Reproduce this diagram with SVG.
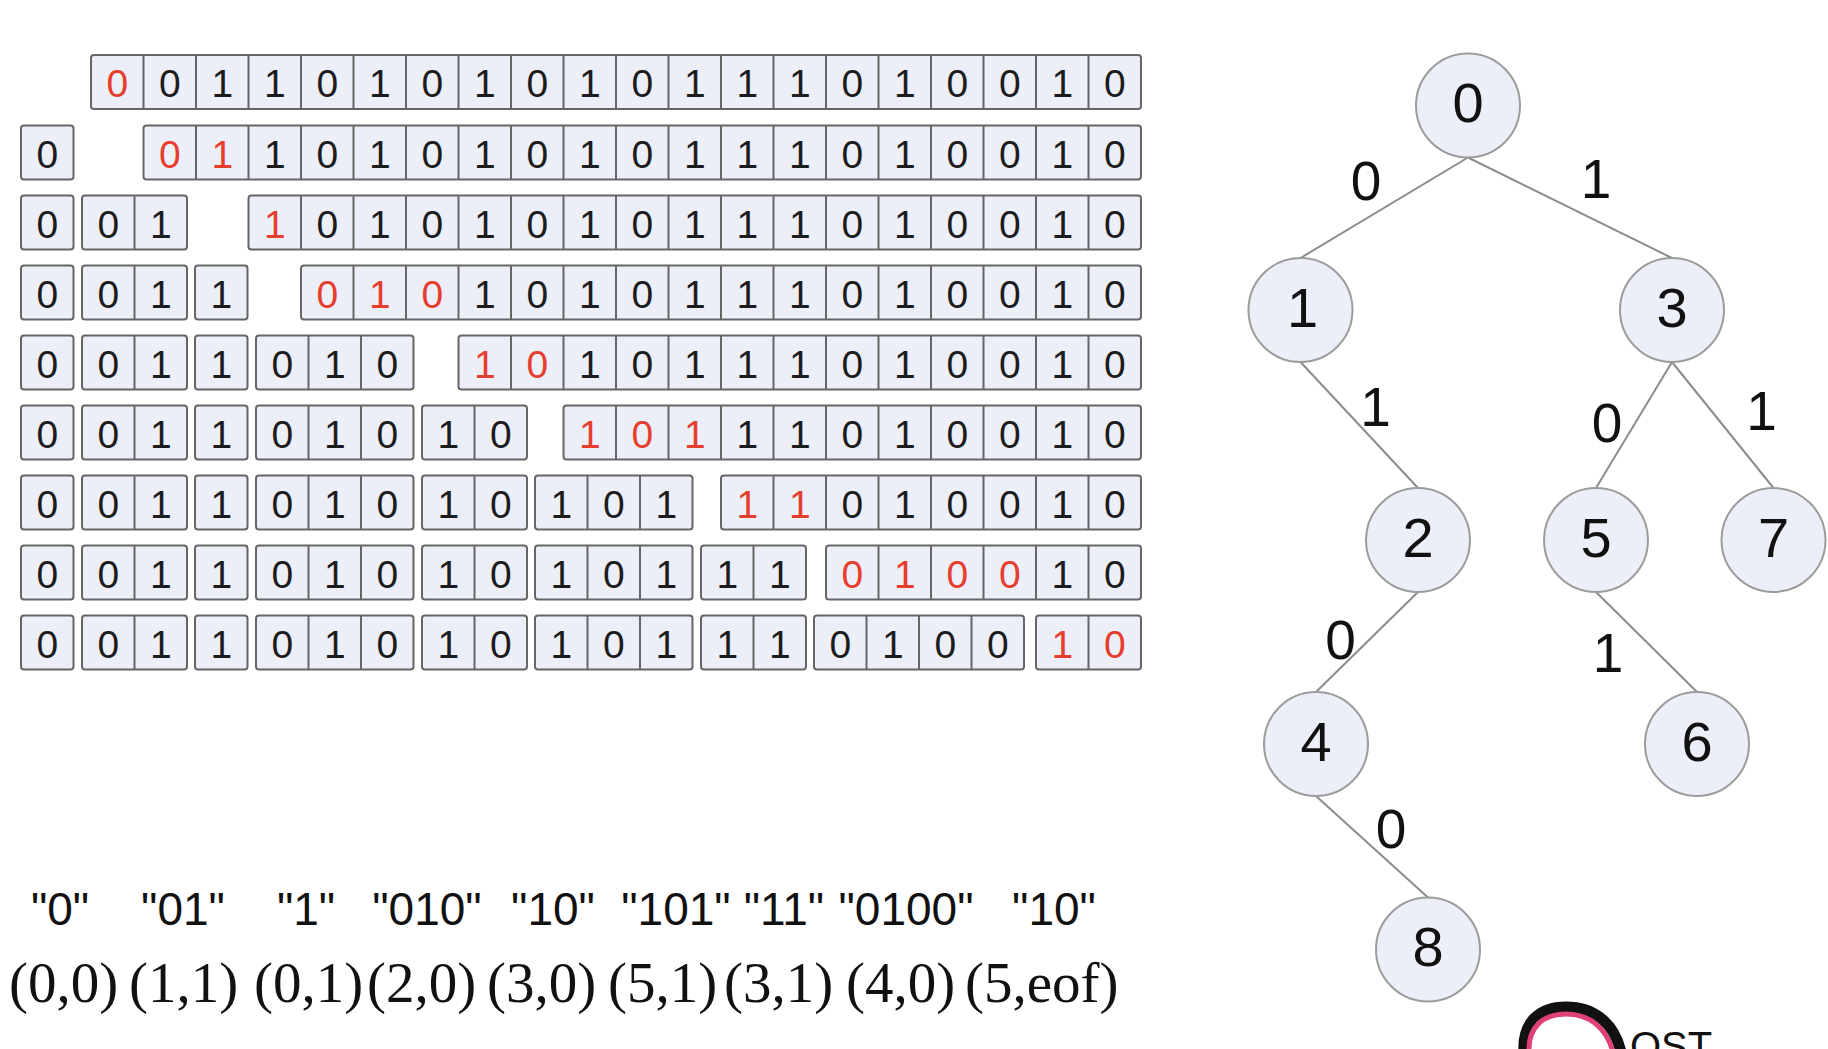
<svg xmlns="http://www.w3.org/2000/svg" width="1828" height="1049" viewBox="0 0 1828 1049">
<style>
.box{fill:#eceef8;stroke:#666;stroke-width:2}
.dv{fill:none;stroke:#666;stroke-width:2}
.row text{font-family:"Liberation Sans",Arial,sans-serif;font-size:39px;fill:#1c1c1c;text-anchor:middle}
.row text.r{fill:#e63d2c}
.edge{stroke:#8c8c8c;stroke-width:2;fill:none}
.node circle{fill:#eceef8;stroke:#9c9c9c;stroke-width:2}
.node text{font-family:"Liberation Sans",Arial,sans-serif;font-size:56px;fill:#111;text-anchor:middle}
.el{font-family:"Liberation Sans",Arial,sans-serif;font-size:55px;fill:#111;text-anchor:middle}
.q{font-family:"Liberation Sans",Arial,sans-serif;font-size:46px;fill:#111;text-anchor:middle}
.tu{font-family:"Liberation Serif","Times New Roman",serif;font-size:57px;fill:#111}
</style>
<rect width="1828" height="1049" fill="#fff"/>

<g id="row-1" class="row" transform="translate(0,55)">
<rect class="box" x="91" y="0" width="1050" height="54" rx="3"/>
<path class="dv" d="M143.5 0V54M196 0V54M248.5 0V54M301 0V54M353.5 0V54M406 0V54M458.5 0V54M511 0V54M563.5 0V54M616 0V54M668.5 0V54M721 0V54M773.5 0V54M826 0V54M878.5 0V54M931 0V54M983.5 0V54M1036 0V54M1088.5 0V54"/>
<text class="r" x="117.25" y="42">0</text>
<text x="169.75" y="42">0</text><text x="222.25" y="42">1</text><text x="274.75" y="42">1</text><text x="327.25" y="42">0</text><text x="379.75" y="42">1</text><text x="432.25" y="42">0</text><text x="484.75" y="42">1</text><text x="537.25" y="42">0</text><text x="589.75" y="42">1</text><text x="642.25" y="42">0</text><text x="694.75" y="42">1</text><text x="747.25" y="42">1</text><text x="799.75" y="42">1</text><text x="852.25" y="42">0</text><text x="904.75" y="42">1</text><text x="957.25" y="42">0</text><text x="1009.75" y="42">0</text><text x="1062.25" y="42">1</text><text x="1114.75" y="42">0</text>
</g>

<g id="row-2" class="row" transform="translate(0,125.5)">
<rect class="box" x="21" y="0" width="52.5" height="54" rx="3"/>
<text x="47.25" y="42">0</text>
<rect class="box" x="143.5" y="0" width="997.5" height="54" rx="3"/>
<path class="dv" d="M196 0V54M248.5 0V54M301 0V54M353.5 0V54M406 0V54M458.5 0V54M511 0V54M563.5 0V54M616 0V54M668.5 0V54M721 0V54M773.5 0V54M826 0V54M878.5 0V54M931 0V54M983.5 0V54M1036 0V54M1088.5 0V54"/>
<text class="r" x="169.75" y="42">0</text><text class="r" x="222.25" y="42">1</text>
<text x="274.75" y="42">1</text><text x="327.25" y="42">0</text><text x="379.75" y="42">1</text><text x="432.25" y="42">0</text><text x="484.75" y="42">1</text><text x="537.25" y="42">0</text><text x="589.75" y="42">1</text><text x="642.25" y="42">0</text><text x="694.75" y="42">1</text><text x="747.25" y="42">1</text><text x="799.75" y="42">1</text><text x="852.25" y="42">0</text><text x="904.75" y="42">1</text><text x="957.25" y="42">0</text><text x="1009.75" y="42">0</text><text x="1062.25" y="42">1</text><text x="1114.75" y="42">0</text>
</g>

<g id="row-3" class="row" transform="translate(0,195.5)">
<rect class="box" x="21" y="0" width="52.5" height="54" rx="3"/>
<rect class="box" x="82" y="0" width="105" height="54" rx="3"/>
<path class="dv" d="M134.5 0V54"/>
<text x="47.25" y="42">0</text><text x="108.25" y="42">0</text><text x="160.75" y="42">1</text>
<rect class="box" x="248.5" y="0" width="892.5" height="54" rx="3"/>
<path class="dv" d="M301 0V54M353.5 0V54M406 0V54M458.5 0V54M511 0V54M563.5 0V54M616 0V54M668.5 0V54M721 0V54M773.5 0V54M826 0V54M878.5 0V54M931 0V54M983.5 0V54M1036 0V54M1088.5 0V54"/>
<text class="r" x="274.75" y="42">1</text>
<text x="327.25" y="42">0</text><text x="379.75" y="42">1</text><text x="432.25" y="42">0</text><text x="484.75" y="42">1</text><text x="537.25" y="42">0</text><text x="589.75" y="42">1</text><text x="642.25" y="42">0</text><text x="694.75" y="42">1</text><text x="747.25" y="42">1</text><text x="799.75" y="42">1</text><text x="852.25" y="42">0</text><text x="904.75" y="42">1</text><text x="957.25" y="42">0</text><text x="1009.75" y="42">0</text><text x="1062.25" y="42">1</text><text x="1114.75" y="42">0</text>
</g>

<g id="row-4" class="row" transform="translate(0,265.5)">
<rect class="box" x="21" y="0" width="52.5" height="54" rx="3"/>
<rect class="box" x="82" y="0" width="105" height="54" rx="3"/>
<rect class="box" x="195" y="0" width="52.5" height="54" rx="3"/>
<path class="dv" d="M134.5 0V54"/>
<text x="47.25" y="42">0</text><text x="108.25" y="42">0</text><text x="160.75" y="42">1</text><text x="221.25" y="42">1</text>
<rect class="box" x="301" y="0" width="840" height="54" rx="3"/>
<path class="dv" d="M353.5 0V54M406 0V54M458.5 0V54M511 0V54M563.5 0V54M616 0V54M668.5 0V54M721 0V54M773.5 0V54M826 0V54M878.5 0V54M931 0V54M983.5 0V54M1036 0V54M1088.5 0V54"/>
<text class="r" x="327.25" y="42">0</text><text class="r" x="379.75" y="42">1</text><text class="r" x="432.25" y="42">0</text>
<text x="484.75" y="42">1</text><text x="537.25" y="42">0</text><text x="589.75" y="42">1</text><text x="642.25" y="42">0</text><text x="694.75" y="42">1</text><text x="747.25" y="42">1</text><text x="799.75" y="42">1</text><text x="852.25" y="42">0</text><text x="904.75" y="42">1</text><text x="957.25" y="42">0</text><text x="1009.75" y="42">0</text><text x="1062.25" y="42">1</text><text x="1114.75" y="42">0</text>
</g>

<g id="row-5" class="row" transform="translate(0,335.5)">
<rect class="box" x="21" y="0" width="52.5" height="54" rx="3"/>
<rect class="box" x="82" y="0" width="105" height="54" rx="3"/>
<rect class="box" x="195" y="0" width="52.5" height="54" rx="3"/>
<rect class="box" x="256" y="0" width="157.5" height="54" rx="3"/>
<path class="dv" d="M134.5 0V54M308.5 0V54M361 0V54"/>
<text x="47.25" y="42">0</text><text x="108.25" y="42">0</text><text x="160.75" y="42">1</text><text x="221.25" y="42">1</text><text x="282.25" y="42">0</text><text x="334.75" y="42">1</text><text x="387.25" y="42">0</text>
<rect class="box" x="458.5" y="0" width="682.5" height="54" rx="3"/>
<path class="dv" d="M511 0V54M563.5 0V54M616 0V54M668.5 0V54M721 0V54M773.5 0V54M826 0V54M878.5 0V54M931 0V54M983.5 0V54M1036 0V54M1088.5 0V54"/>
<text class="r" x="484.75" y="42">1</text><text class="r" x="537.25" y="42">0</text>
<text x="589.75" y="42">1</text><text x="642.25" y="42">0</text><text x="694.75" y="42">1</text><text x="747.25" y="42">1</text><text x="799.75" y="42">1</text><text x="852.25" y="42">0</text><text x="904.75" y="42">1</text><text x="957.25" y="42">0</text><text x="1009.75" y="42">0</text><text x="1062.25" y="42">1</text><text x="1114.75" y="42">0</text>
</g>

<g id="row-6" class="row" transform="translate(0,405.5)">
<rect class="box" x="21" y="0" width="52.5" height="54" rx="3"/>
<rect class="box" x="82" y="0" width="105" height="54" rx="3"/>
<rect class="box" x="195" y="0" width="52.5" height="54" rx="3"/>
<rect class="box" x="256" y="0" width="157.5" height="54" rx="3"/>
<rect class="box" x="422" y="0" width="105" height="54" rx="3"/>
<path class="dv" d="M134.5 0V54M308.5 0V54M361 0V54M474.5 0V54"/>
<text x="47.25" y="42">0</text><text x="108.25" y="42">0</text><text x="160.75" y="42">1</text><text x="221.25" y="42">1</text><text x="282.25" y="42">0</text><text x="334.75" y="42">1</text><text x="387.25" y="42">0</text><text x="448.25" y="42">1</text><text x="500.75" y="42">0</text>
<rect class="box" x="563.5" y="0" width="577.5" height="54" rx="3"/>
<path class="dv" d="M616 0V54M668.5 0V54M721 0V54M773.5 0V54M826 0V54M878.5 0V54M931 0V54M983.5 0V54M1036 0V54M1088.5 0V54"/>
<text class="r" x="589.75" y="42">1</text><text class="r" x="642.25" y="42">0</text><text class="r" x="694.75" y="42">1</text>
<text x="747.25" y="42">1</text><text x="799.75" y="42">1</text><text x="852.25" y="42">0</text><text x="904.75" y="42">1</text><text x="957.25" y="42">0</text><text x="1009.75" y="42">0</text><text x="1062.25" y="42">1</text><text x="1114.75" y="42">0</text>
</g>

<g id="row-7" class="row" transform="translate(0,475.5)">
<rect class="box" x="21" y="0" width="52.5" height="54" rx="3"/>
<rect class="box" x="82" y="0" width="105" height="54" rx="3"/>
<rect class="box" x="195" y="0" width="52.5" height="54" rx="3"/>
<rect class="box" x="256" y="0" width="157.5" height="54" rx="3"/>
<rect class="box" x="422" y="0" width="105" height="54" rx="3"/>
<rect class="box" x="535" y="0" width="157.5" height="54" rx="3"/>
<path class="dv" d="M134.5 0V54M308.5 0V54M361 0V54M474.5 0V54M587.5 0V54M640 0V54"/>
<text x="47.25" y="42">0</text><text x="108.25" y="42">0</text><text x="160.75" y="42">1</text><text x="221.25" y="42">1</text><text x="282.25" y="42">0</text><text x="334.75" y="42">1</text><text x="387.25" y="42">0</text><text x="448.25" y="42">1</text><text x="500.75" y="42">0</text><text x="561.25" y="42">1</text><text x="613.75" y="42">0</text><text x="666.25" y="42">1</text>
<rect class="box" x="721" y="0" width="420" height="54" rx="3"/>
<path class="dv" d="M773.5 0V54M826 0V54M878.5 0V54M931 0V54M983.5 0V54M1036 0V54M1088.5 0V54"/>
<text class="r" x="747.25" y="42">1</text><text class="r" x="799.75" y="42">1</text>
<text x="852.25" y="42">0</text><text x="904.75" y="42">1</text><text x="957.25" y="42">0</text><text x="1009.75" y="42">0</text><text x="1062.25" y="42">1</text><text x="1114.75" y="42">0</text>
</g>

<g id="row-8" class="row" transform="translate(0,545.5)">
<rect class="box" x="21" y="0" width="52.5" height="54" rx="3"/>
<rect class="box" x="82" y="0" width="105" height="54" rx="3"/>
<rect class="box" x="195" y="0" width="52.5" height="54" rx="3"/>
<rect class="box" x="256" y="0" width="157.5" height="54" rx="3"/>
<rect class="box" x="422" y="0" width="105" height="54" rx="3"/>
<rect class="box" x="535" y="0" width="157.5" height="54" rx="3"/>
<rect class="box" x="701" y="0" width="105" height="54" rx="3"/>
<path class="dv" d="M134.5 0V54M308.5 0V54M361 0V54M474.5 0V54M587.5 0V54M640 0V54M753.5 0V54"/>
<text x="47.25" y="42">0</text><text x="108.25" y="42">0</text><text x="160.75" y="42">1</text><text x="221.25" y="42">1</text><text x="282.25" y="42">0</text><text x="334.75" y="42">1</text><text x="387.25" y="42">0</text><text x="448.25" y="42">1</text><text x="500.75" y="42">0</text><text x="561.25" y="42">1</text><text x="613.75" y="42">0</text><text x="666.25" y="42">1</text><text x="727.25" y="42">1</text><text x="779.75" y="42">1</text>
<rect class="box" x="826" y="0" width="315" height="54" rx="3"/>
<path class="dv" d="M878.5 0V54M931 0V54M983.5 0V54M1036 0V54M1088.5 0V54"/>
<text class="r" x="852.25" y="42">0</text><text class="r" x="904.75" y="42">1</text><text class="r" x="957.25" y="42">0</text><text class="r" x="1009.75" y="42">0</text>
<text x="1062.25" y="42">1</text><text x="1114.75" y="42">0</text>
</g>

<g id="row-9" class="row" transform="translate(0,615.5)">
<rect class="box" x="21" y="0" width="52.5" height="54" rx="3"/>
<rect class="box" x="82" y="0" width="105" height="54" rx="3"/>
<rect class="box" x="195" y="0" width="52.5" height="54" rx="3"/>
<rect class="box" x="256" y="0" width="157.5" height="54" rx="3"/>
<rect class="box" x="422" y="0" width="105" height="54" rx="3"/>
<rect class="box" x="535" y="0" width="157.5" height="54" rx="3"/>
<rect class="box" x="701" y="0" width="105" height="54" rx="3"/>
<rect class="box" x="814" y="0" width="210" height="54" rx="3"/>
<path class="dv" d="M134.5 0V54M308.5 0V54M361 0V54M474.5 0V54M587.5 0V54M640 0V54M753.5 0V54M866.5 0V54M919 0V54M971.5 0V54"/>
<text x="47.25" y="42">0</text><text x="108.25" y="42">0</text><text x="160.75" y="42">1</text><text x="221.25" y="42">1</text><text x="282.25" y="42">0</text><text x="334.75" y="42">1</text><text x="387.25" y="42">0</text><text x="448.25" y="42">1</text><text x="500.75" y="42">0</text><text x="561.25" y="42">1</text><text x="613.75" y="42">0</text><text x="666.25" y="42">1</text><text x="727.25" y="42">1</text><text x="779.75" y="42">1</text><text x="840.25" y="42">0</text><text x="892.75" y="42">1</text><text x="945.25" y="42">0</text><text x="997.75" y="42">0</text>
<rect class="box" x="1036" y="0" width="105" height="54" rx="3"/>
<path class="dv" d="M1088.5 0V54"/>
<text class="r" x="1062.25" y="42">1</text><text class="r" x="1114.75" y="42">0</text>
</g>

<g id="phrases">
<text class="q" x="60" y="925">"0"</text>
<text class="q" x="183" y="925">"01"</text>
<text class="q" x="306" y="925">"1"</text>
<text class="q" x="427" y="925">"010"</text>
<text class="q" x="553" y="925">"10"</text>
<text class="q" x="676" y="925">"101"</text>
<text class="q" x="784" y="925">"11"</text>
<text class="q" x="906" y="925">"0100"</text>
<text class="q" x="1054" y="925">"10"</text>
</g>
<g id="tuples">
<text class="tu" x="9" y="1002">(0,0)</text>
<text class="tu" x="129" y="1002">(1,1)</text>
<text class="tu" x="254" y="1002">(0,1)</text>
<text class="tu" x="367" y="1002">(2,0)</text>
<text class="tu" x="487" y="1002">(3,0)</text>
<text class="tu" x="608" y="1002">(5,1)</text>
<text class="tu" x="724" y="1002">(3,1)</text>
<text class="tu" x="846" y="1002">(4,0)</text>
<text class="tu" x="965" y="1002">(5,eof)</text>
</g>

<g id="connectors">
<line class="edge" x1="1468" y1="157.5" x2="1300.5" y2="258"/>
<line class="edge" x1="1468" y1="157.5" x2="1672" y2="258"/>
<line class="edge" x1="1300.5" y1="362" x2="1418" y2="488"/>
<line class="edge" x1="1672" y1="362" x2="1596" y2="488"/>
<line class="edge" x1="1672" y1="362" x2="1773.5" y2="488"/>
<line class="edge" x1="1418" y1="592" x2="1316" y2="692"/>
<line class="edge" x1="1596" y1="592" x2="1697" y2="692"/>
<line class="edge" x1="1316" y1="796" x2="1428" y2="897.5"/>
<text class="el" x="1366" y="199.5">0</text>
<text class="el" x="1596" y="198">1</text>
<text class="el" x="1375.5" y="426">1</text>
<text class="el" x="1607" y="441.5">0</text>
<text class="el" x="1761.5" y="429.5">1</text>
<text class="el" x="1340.5" y="658.5">0</text>
<text class="el" x="1608" y="671.5">1</text>
<text class="el" x="1391" y="848">0</text>
</g>

<g id="node-0" class="node"><circle cx="1468" cy="105.5" r="52"/><text x="1468" y="122">0</text></g>
<g id="node-1" class="node"><circle cx="1300.5" cy="310" r="52"/><text x="1302.5" y="326.5">1</text></g>
<g id="node-3" class="node"><circle cx="1672" cy="310" r="52"/><text x="1672" y="326.5">3</text></g>
<g id="node-2" class="node"><circle cx="1418" cy="540" r="52"/><text x="1418" y="556.5">2</text></g>
<g id="node-5" class="node"><circle cx="1596" cy="540" r="52"/><text x="1596" y="556.5">5</text></g>
<g id="node-7" class="node"><circle cx="1773.5" cy="540" r="52"/><text x="1773.5" y="556.5">7</text></g>
<g id="node-4" class="node"><circle cx="1316" cy="744" r="52"/><text x="1316" y="760.5">4</text></g>
<g id="node-6" class="node"><circle cx="1697" cy="744" r="52"/><text x="1697" y="760.5">6</text></g>
<g id="node-8" class="node"><circle cx="1428" cy="949.5" r="52"/><text x="1428" y="966">8</text></g>

<g id="logo">
<path d="M1524 1052C1522 1022 1540 1007 1566 1007C1593 1007 1614 1022 1621 1052" fill="none" stroke="#111" stroke-width="11"/>
<path d="M1529 1052C1528 1027 1543 1014 1566 1014C1589 1014 1606 1027 1613 1052" fill="none" stroke="#e0407a" stroke-width="5"/>
<text x="1630" y="1060" font-family="'Liberation Sans',Arial,sans-serif" font-size="40" fill="#111">OST</text>
</g>
</svg>
